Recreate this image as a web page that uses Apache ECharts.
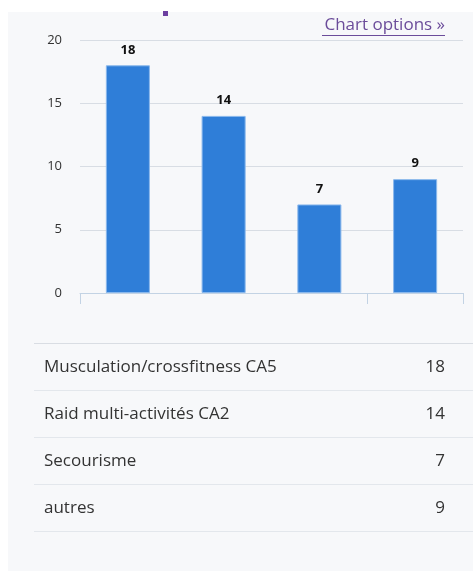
<!DOCTYPE html>
<html><head><meta charset="utf-8">
<script src="https://cdn.jsdelivr.net/npm/echarts@6/dist/echarts.min.js"></script>
<style>html,body{margin:0;padding:0;background:#fff}#c{width:473px;height:571px}</style>
</head><body><div id="c"></div>
<script>
var categories = ["Musculation/crossfitness CA5", "Raid multi-activités CA2", "Secourisme", "autres"];
var values = [18, 14, 7, 9];
var yTicks = [0, 5, 10, 15, 20];

var chart = echarts.init(document.getElementById('c'));
var FONT = '"Open Sans", "Noto Sans", sans-serif';
var graphics = [
  {type:'rect', z:-10, shape:{x:8,y:12,width:465,height:559}, style:{fill:'#f7f8fa'}},
  {type:'rect', shape:{x:163,y:11,width:5,height:5}, style:{fill:'#6c3fa0'}},
  {type:'text', style:{text:'Chart options »', x:445, y:25, align:'right', verticalAlign:'middle', font:'17px ' + FONT, fill:'#6b4c9a'}},
  {type:'line', shape:{x1:322,y1:35.5,x2:445,y2:35.5}, style:{stroke:'#6b4c9a', lineWidth:1}}
];
var rowTop = 343, rowH = 47;
graphics.push({type:'line', shape:{x1:34,y1:rowTop+0.5,x2:473,y2:rowTop+0.5}, style:{stroke:'#d9dde3',lineWidth:1}});
categories.forEach(function(c, i){
  var yc = rowTop + rowH*i + rowH/2 + 1;
  graphics.push({type:'text', style:{text:c, x:44, y:yc, verticalAlign:'middle', font:'17px ' + FONT, fill:'#333'}});
  graphics.push({type:'text', style:{text:String(values[i]), x:445, y:yc, align:'right', verticalAlign:'middle', font:'17px ' + FONT, fill:'#333'}});
  graphics.push({type:'line', shape:{x1:34,y1:rowTop+rowH*(i+1)+0.5,x2:473,y2:rowTop+rowH*(i+1)+0.5}, style:{stroke:'#e3e7ec',lineWidth:1}});
});

chart.setOption({
  backgroundColor:'#ffffff',
  animation:false,
  textStyle:{fontFamily:FONT},
  grid:{left:80, right:10, top:40, bottom:278},
  xAxis:{type:'category', data:categories,
    axisLine:{lineStyle:{color:'#c3d3e4'}},
    axisTick:{show:true, length:11, lineStyle:{color:'#c3d3e4'}},
    axisLabel:{show:false}},
  yAxis:{type:'value', min:yTicks[0], max:yTicks[yTicks.length-1], interval:5,
    axisLine:{show:false}, axisTick:{show:false},
    axisLabel:{color:'#333', fontSize:13, margin:18},
    splitLine:{lineStyle:{color:'#d8dde4'}}},
  series:[{type:'bar', data:values, barWidth:'46%',
    itemStyle:{color:'#2f7ed8', borderColor:'#8ab8ec', borderWidth:1},
    label:{show:true, position:'top', distance:9, color:'#111', fontWeight:'bold', fontSize:13}}],
  graphic:graphics
});
</script></body></html>
